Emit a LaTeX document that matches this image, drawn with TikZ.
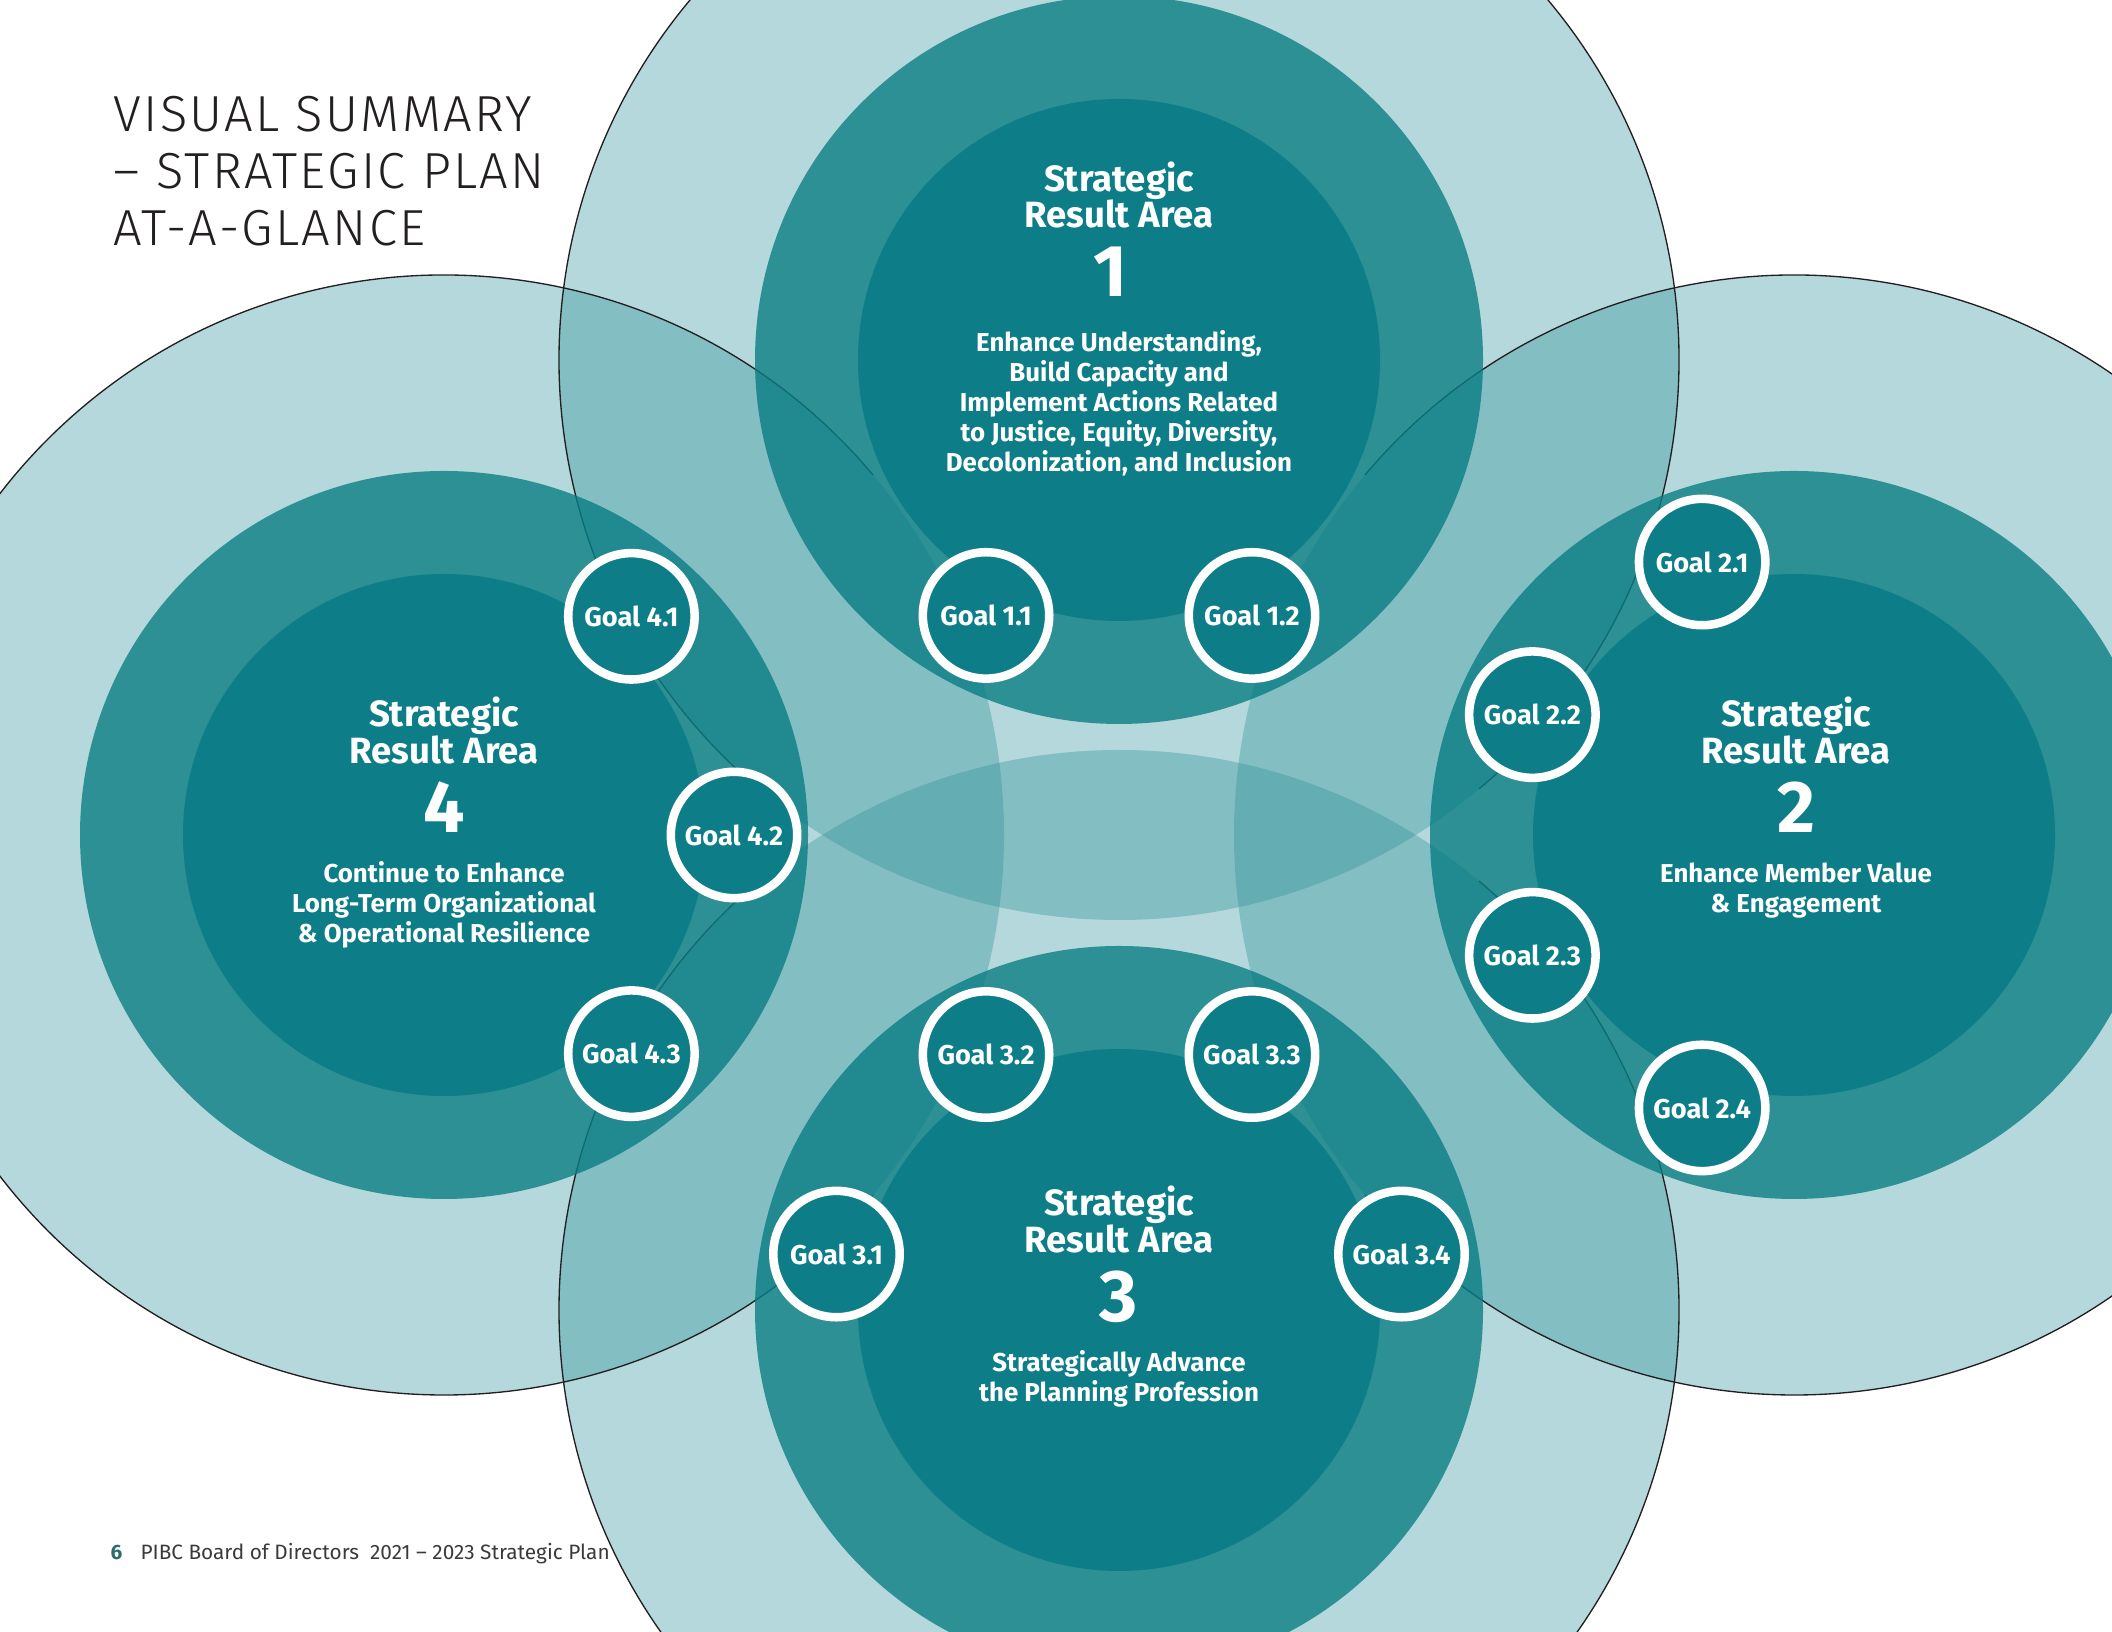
\documentclass[tikz,border=0pt]{standalone}
\usepackage{fontspec}
\setmainfont{Fira Sans}
\newfontfamily\titlefont{Fira Sans Light}[LetterSpace=4.5]
\usetikzlibrary{positioning}

\definecolor{ringcol}{RGB}{36,140,149}
\definecolor{midcol}{RGB}{9,126,132}
\definecolor{corecol}{RGB}{13,126,136}
\definecolor{inkcol}{RGB}{35,31,32}
\definecolor{footcol}{RGB}{58,58,58}
\definecolor{pagecol}{RGB}{47,108,112}

\tikzset{
	outer/.style={fill=ringcol, fill opacity=0.34},
	rim/.style={draw=inkcol, line width=0.5pt},
	mid/.style={fill=midcol, fill opacity=0.8},
	core/.style={fill=corecol},
	goal/.style={circle, draw=white, line width=3.2pt, fill=corecol, minimum size=47.4pt, inner sep=0pt, text=white, font=\bfseries\fontsize{10.2}{12}\selectfont},
	head/.style={anchor=base, inner sep=0pt, text=white, font=\bfseries\fontsize{13.7}{15}\selectfont},
	num/.style={anchor=base, inner sep=0pt, text=white, font=\bfseries\fontsize{27.5}{30}\selectfont},
	body/.style={anchor=base, inner sep=0pt, text=white, font=\bfseries\fontsize{9.7}{11}\selectfont},
	title/.style={anchor=base west, inner sep=0pt, text=inkcol, font=\titlefont\fontsize{19}{22}\selectfont},
}

\begin{document}
\begin{tikzpicture}[x=0.375pt, y=0.375pt]
		\useasboundingbox (0,0) rectangle (2112,1632);
		\clip (0,0) rectangle (2112,1632);
		% centres of the four result areas
		\coordinate (c1) at (1119,1272);
		\coordinate (c2) at (1794,797);
		\coordinate (c3) at (1119,322);
		\coordinate (c4) at (444,797);
		
		% pale outer rings
		\foreach \c in {c1,c2,c3,c4} \fill[outer] (\c) circle (560);
		% outlines, open towards the middle
		\draw[rim] ([shift={(310:560)}]c1) arc[start angle=310, end angle=590, radius=560];
		\draw[rim] ([shift={(220:560)}]c2) arc[start angle=220, end angle=500, radius=560];
		\draw[rim] ([shift={(130:560)}]c3) arc[start angle=130, end angle=410, radius=560];
		\draw[rim] ([shift={(40:560)}]c4) arc[start angle=40, end angle=320, radius=560];
		% middle ring and core
		\foreach \c in {c1,c2,c3,c4} {
			\fill[mid] (\c) circle (364);
			\fill[core] (\c) circle (261);
		}
		
		% goals
		\node[goal] (g11) at ([shift={(242.5:288)}]c1) {Goal 1.1};
		\node[goal] (g12) at ([shift={(297.5:288)}]c1) {Goal 1.2};
		\node[goal] (g21) at ([shift={(108.6:288)}]c2) {Goal 2.1};
		\node[goal] (g22) at ([shift={(155.3:288)}]c2) {Goal 2.2};
		\node[goal] (g23) at ([shift={(204.7:288)}]c2) {Goal 2.3};
		\node[goal] (g24) at ([shift={(251.4:288)}]c2) {Goal 2.4};
		\node[goal] (g31) at ([shift={(168.8:288)}]c3) {Goal 3.1};
		\node[goal] (g32) at ([shift={(117.5:288)}]c3) {Goal 3.2};
		\node[goal] (g33) at ([shift={(62.5:288)}]c3) {Goal 3.3};
		\node[goal] (g34) at ([shift={(11.2:288)}]c3) {Goal 3.4};
		\node[goal] (g41) at ([shift={(49.4:288)}]c4) {Goal 4.1};
		\node[goal] (g42) at ([shift={(0:290)}]c4) {Goal 4.2};
		\node[goal] (g43) at ([shift={(-49.4:288)}]c4) {Goal 4.3};
		
		% area 1
		\node[head] (h1a) at (1119,1440) {Strategic};
		\node[head] (h1b) at (1119,1404) {Result Area};
		\node[num] (n1) at (1110,1335) {1};
		\foreach \txt [count=\i] in {{Enhance Understanding,},{Build Capacity and},{Implement Actions Related},{to Justice, Equity, Diversity,},{Decolonization, and Inclusion}}
			\node[body] (d1\i) at (1119,1310-30*\i) {\txt};
		% area 2
		\node[head] (h2a) at (1796,905) {Strategic};
		\node[head] (h2b) at (1796,868) {Result Area};
		\node[num] (n2) at (1796,799) {2};
		\node[body] (d21) at (1796,749) {Enhance Member Value};
		\node[body] (d22) at (1796,719) {\& Engagement};
		% area 3
		\node[head] (h3a) at (1119,416) {Strategic};
		\node[head] (h3b) at (1119,379) {Result Area};
		\node[num] (n3) at (1119,310) {3};
		\node[body] (d31) at (1119,260) {Strategically Advance};
		\node[body] (d32) at (1119,230) {the Planning Profession};
		% area 4
		\node[head] (h4a) at (444,905) {Strategic};
		\node[head] (h4b) at (444,868) {Result Area};
		\node[num] (n4) at (444,799) {4};
		\foreach \txt [count=\i] in {{Continue to Enhance},{Long-Term Organizational},{\& Operational Resilience}}
			\node[body] (d4\i) at (444,779-30*\i) {\txt};
		
		% title and footer
		\node[title] (ttl1) at (113,1500) {VISUAL SUMMARY};
		\node[title] (ttl2) at (113,1443) {– STRATEGIC PLAN};
		\node[title] (ttl3) at (113,1386) {AT-A-GLANCE};
		\node[anchor=base west, inner sep=0pt, text=pagecol, font=\bfseries\fontsize{7.8}{9}\selectfont] (page) at (110,72) {6};
		\node[anchor=base west, inner sep=0pt, text=footcol, font=\fontsize{7.8}{9}\selectfont] (foot) at (140,72) {PIBC Board of Directors\ \ 2021 – 2023 Strategic Plan};
	\end{tikzpicture}
\end{document}
